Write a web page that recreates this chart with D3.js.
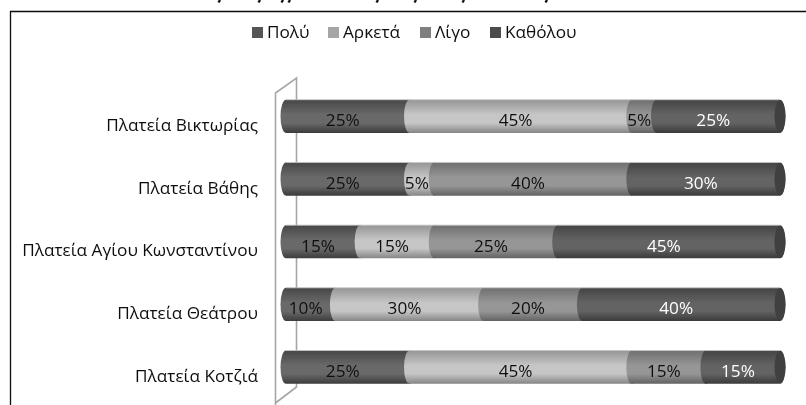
<!DOCTYPE html>
<html lang="el">
<head>
<meta charset="UTF-8">
<title>Chart</title>
<script src="https://d3js.org/d3.v7.min.js"></script>
<style>
    html, body { margin: 0; padding: 0; background: #fff; overflow: hidden; }
    svg { display: block; font-family: "Open Sans", sans-serif; }
</style>
</head>
<body>
<script>
    const squares = ['Πλατεία Βικτωρίας', 'Πλατεία Βάθης', 'Πλατεία Αγίου Κωνσταντίνου', 'Πλατεία Θεάτρου', 'Πλατεία Κοτζιά'];
    const answers = ['Πολύ', 'Αρκετά', 'Λίγο', 'Καθόλου'];
    const poly = [25, 25, 15, 10, 25];
    const arketa = [45, 5, 15, 30, 45];
    const ligo = [5, 40, 25, 20, 15];
    const katholou = [25, 30, 45, 40, 15];
    const seriesValues = [poly, arketa, ligo, katholou];

    const edgeColors = ['#3c3c3c', '#858585', '#626262', '#3a3a3a'];
    const midColors = ['#696969', '#c6c6c6', '#969696', '#636363'];
    const legendColors = ['#555555', '#a6a6a6', '#7f7f7f', '#4c4c4c'];
    const labelColors = ['#111', '#111', '#111', '#fff'];
    const legendX = [252, 328, 420, 490];

    const w = 806, h = 405;
    const rx = 5.5;
    const fontSize = 17.2;

    const svg = d3.select('body').append('svg').attr('width', w).attr('height', h);
    const defs = svg.append('defs');

    defs.append('filter').attr('id', 'soft')
        .append('feGaussianBlur').attr('stdDeviation', 0.35);

    edgeColors.forEach((c, i) => {
        const g = defs.append('linearGradient')
            .attr('id', 'cyl' + i)
            .attr('x1', 0).attr('x2', 0).attr('y1', 0).attr('y2', 1);
        g.append('stop').attr('offset', '0%').attr('stop-color', d3.interpolateRgb(c, midColors[i])(0.25));
        g.append('stop').attr('offset', '45%').attr('stop-color', midColors[i]);
        g.append('stop').attr('offset', '70%').attr('stop-color', midColors[i]);
        g.append('stop').attr('offset', '100%').attr('stop-color', c);
    });

    const root = svg.append('g').attr('filter', 'url(#soft)');

    // outer frame, runs off the right and bottom of the picture
    root.append('path')
        .attr('d', `M10.5 ${h} V11.5 H${w}`)
        .attr('fill', 'none')
        .attr('stroke', '#111')
        .attr('stroke-width', 1.3);

    // the bits of the cut off title that are still visible
    const titleMarks = [219, 259, 282, 289, 377, 415, 463, 546];
    root.selectAll('.title-mark')
        .data(titleMarks)
        .enter()
        .append('line')
        .attr('x1', d => d + 1)
        .attr('x2', d => d - 0.5)
        .attr('y1', 0)
        .attr('y2', 2.5)
        .attr('stroke', '#111')
        .attr('stroke-width', 2.4);

    // side wall of the 3d plot
    root.append('path')
        .attr('d', 'M275.5 405 V93 L296.5 78 V387 L275.5 403')
        .attr('fill', 'none')
        .attr('stroke', '#a6a6a6')
        .attr('stroke-width', 1.6);

    const xScale = d3.scaleLinear().domain([0, 100]).range([286, 780]);
    const yScale = d3.scaleBand().domain(squares).range([85, 398.5]).paddingInner(0.47).paddingOuter(0.235);
    const barH = yScale.bandwidth();

    const rows = squares.map((name, i) => {
        let sum = 0;
        return seriesValues.map((vals, s) => {
            const seg = { name, s, from: sum, to: sum + vals[i], value: vals[i] };
            sum += vals[i];
            return seg;
        });
    }).flat();

    const segPath = d => {
        const x0 = xScale(d.from), x1 = xScale(d.to), y = yScale(d.name);
        const ry = barH / 2;
        return `M${x0} ${y} H${x1} A${rx} ${ry} 0 0 1 ${x1} ${y + barH} H${x0} A${rx} ${ry} 0 0 1 ${x0} ${y} Z`;
    };

    root.selectAll('.seg')
        .data(rows)
        .enter()
        .append('path')
        .attr('class', 'seg')
        .attr('d', segPath)
        .attr('fill', d => `url(#cyl${d.s})`);

    // thin light edge along the top of each bar
    root.selectAll('.edge')
        .data(squares)
        .enter()
        .append('line')
        .attr('x1', xScale(0))
        .attr('x2', xScale(100))
        .attr('y1', d => yScale(d))
        .attr('y2', d => yScale(d))
        .attr('stroke', '#c8c8c8')
        .attr('stroke-width', 0.8);

    // dark end cap
    root.selectAll('.cap')
        .data(squares)
        .enter()
        .append('ellipse')
        .attr('cx', xScale(100))
        .attr('cy', d => yScale(d) + barH / 2)
        .attr('rx', rx)
        .attr('ry', barH / 2 - 0.5)
        .attr('fill', '#3f3f3f');

    root.selectAll('.val')
        .data(rows)
        .enter()
        .append('text')
        .attr('x', d => xScale((d.from + d.to) / 2) - 5)
        .attr('y', d => yScale(d.name) + barH / 2 + 10)
        .attr('text-anchor', 'middle')
        .attr('font-size', fontSize)
        .attr('fill', d => labelColors[d.s])
        .text(d => d.value + '%');

    const yAxis = d3.axisLeft(yScale).tickSize(0).tickPadding(0);
    const axisG = root.append('g')
        .attr('transform', 'translate(258,9)')
        .call(yAxis);
    axisG.select('.domain').remove();
    axisG.selectAll('text')
        .attr('font-family', '"Open Sans", sans-serif')
        .attr('font-size', fontSize)
        .attr('fill', '#111');

    const legend = root.selectAll('.legend')
        .data(answers)
        .enter()
        .append('g')
        .attr('transform', (d, i) => `translate(${legendX[i]},27)`);
    legend.append('rect')
        .attr('width', 11)
        .attr('height', 11)
        .attr('fill', (d, i) => legendColors[i]);
    legend.append('text')
        .attr('x', 15)
        .attr('y', 11)
        .attr('font-size', fontSize)
        .attr('fill', '#111')
        .text(d => d);
</script>
</body>
</html>
